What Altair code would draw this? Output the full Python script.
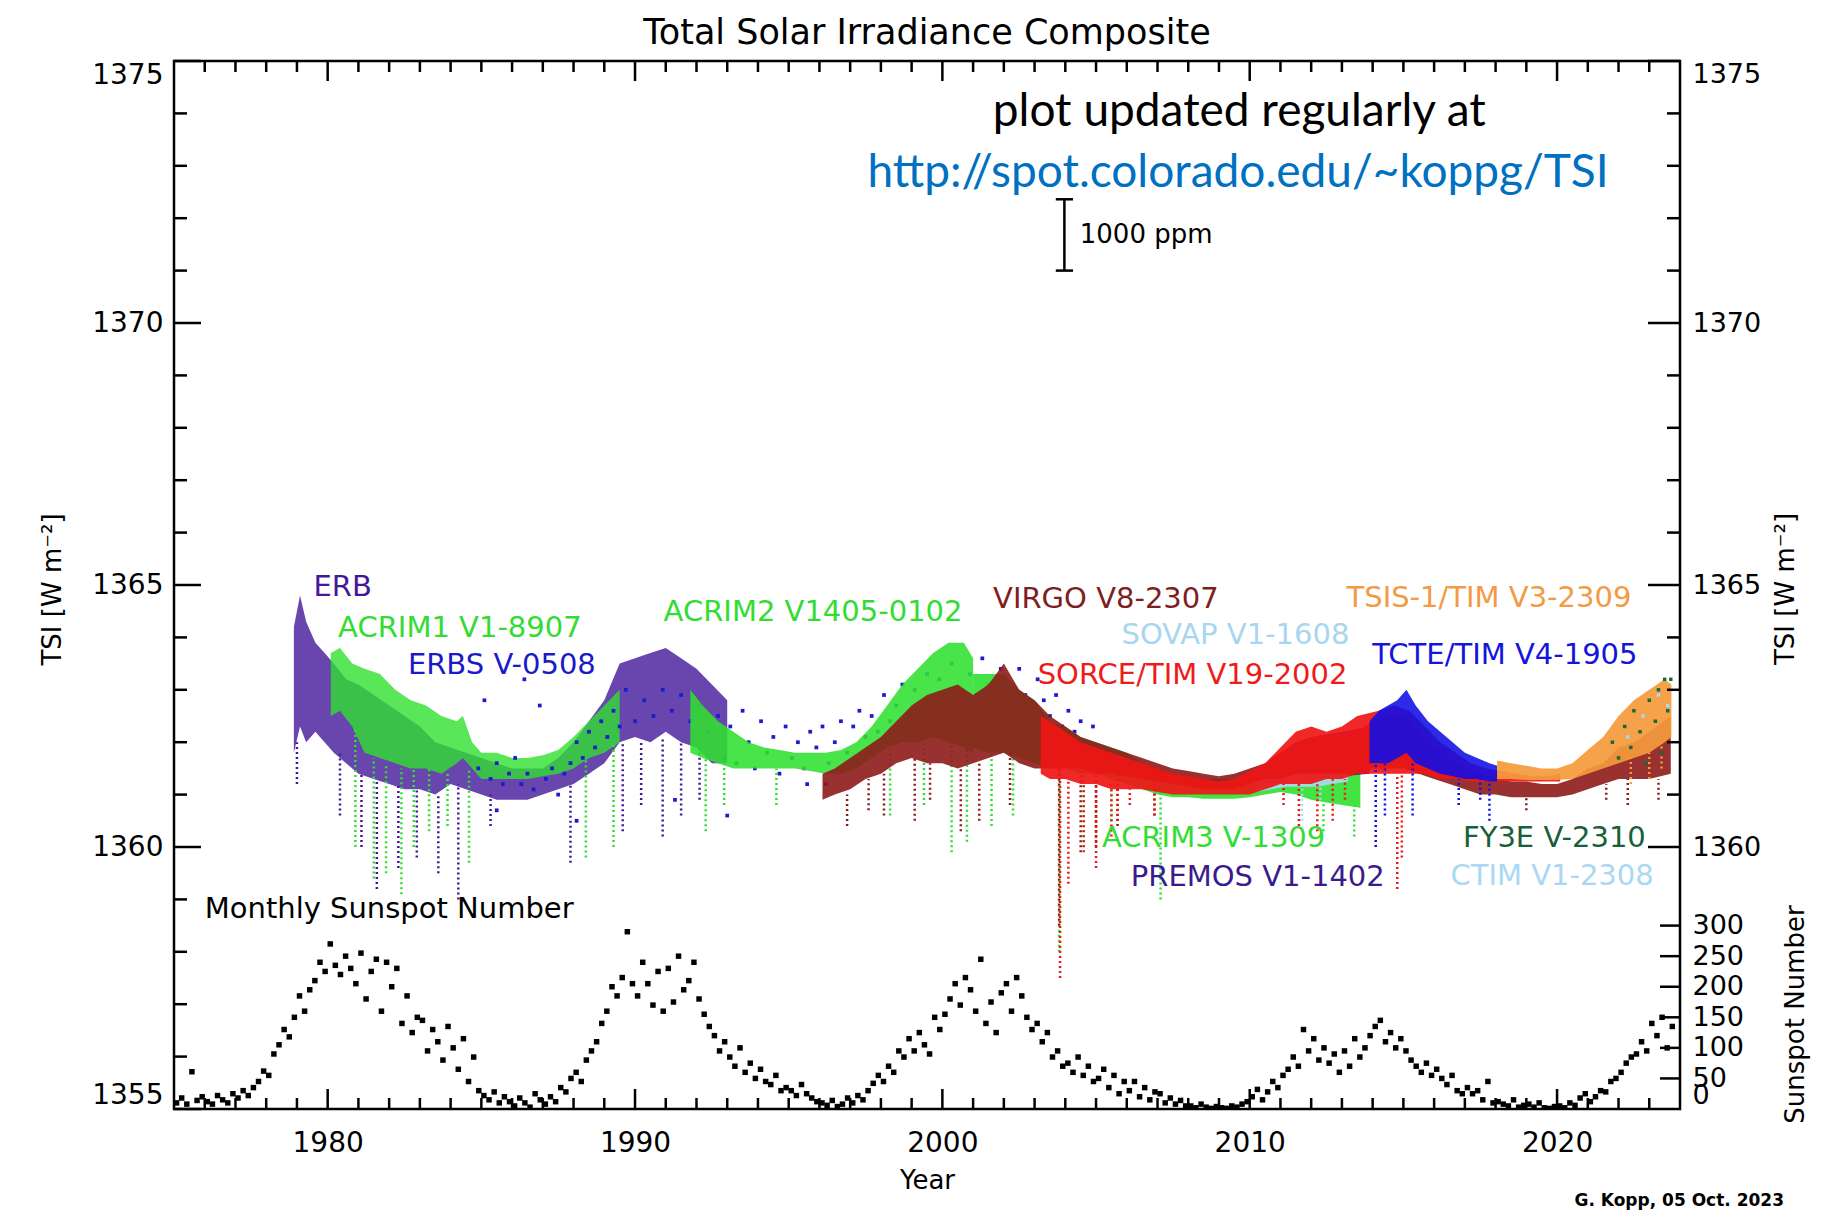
import altair as alt
import pandas as pd

FONT = "DejaVu Sans"
X_DOMAIN = [1975, 2024]
Y_DOMAIN = [1355, 1375]
SS_FULL = 300.0       # sunspot number shown at top of sunspot axis
SS_TSI_SPAN = 3.5     # W/m2 spanned by 0..300 sunspots

# ---------------- TSI instrument records (year, core low, core high) ----------------
ERB_YEAR = [1978.9, 1979.1, 1979.3, 1979.6, 1979.9, 1980.2, 1980.6, 1981.0, 1981.5, 1982.0,
            1982.5, 1983.0, 1983.5, 1984.0, 1984.5, 1985.0, 1985.5, 1986.0, 1986.5, 1987.0,
            1987.5, 1988.0, 1988.5, 1989.0, 1989.5, 1990.0, 1990.5, 1991.0, 1991.5, 1992.0,
            1992.5, 1993.0]
ERB_LO = [1361.8, 1362.3, 1362.0, 1362.2, 1362.0, 1361.8, 1361.6, 1361.4, 1361.3, 1361.2,
          1361.1, 1361.1, 1361.0, 1361.2, 1361.1, 1361.0, 1360.9, 1360.9, 1360.9, 1361.0,
          1361.1, 1361.2, 1361.4, 1361.6, 1362.0, 1362.1, 1362.0, 1362.2, 1362.0, 1361.9,
          1361.6, 1361.6]
ERB_HI = [1364.2, 1364.8, 1364.3, 1363.9, 1363.7, 1363.5, 1363.2, 1363.1, 1362.9, 1362.7,
          1362.5, 1362.3, 1362.0, 1361.9, 1361.8, 1361.7, 1361.6, 1361.5, 1361.5, 1361.5,
          1361.7, 1362.0, 1362.4, 1362.8, 1363.5, 1363.6, 1363.7, 1363.8, 1363.6, 1363.4,
          1363.1, 1362.8]

ACRIM1_YEAR = [1980.1, 1980.4, 1980.8, 1981.2, 1981.7, 1982.2, 1982.7, 1983.2, 1983.7, 1984.2,
               1984.4, 1984.7, 1985.0, 1985.5, 1986.0, 1986.5, 1987.0, 1987.5, 1988.0, 1988.5,
               1989.0, 1989.5]
ACRIM1_LO = [1362.5, 1362.6, 1362.3, 1361.8, 1361.7, 1361.6, 1361.5, 1361.5, 1361.4, 1361.6,
             1361.7, 1361.5, 1361.3, 1361.3, 1361.3, 1361.3, 1361.35, 1361.4, 1361.5, 1361.7,
             1361.8, 1362.0]
ACRIM1_HI = [1363.7, 1363.8, 1363.5, 1363.4, 1363.3, 1363.0, 1362.8, 1362.7, 1362.5, 1362.4,
             1362.5, 1362.0, 1361.8, 1361.8, 1361.7, 1361.7, 1361.75, 1361.85, 1362.1, 1362.4,
             1362.7, 1363.0]

ACRIM2_YEAR = [1991.8, 1992.2, 1992.7, 1993.2, 1993.7, 1994.2, 1994.7, 1995.2, 1995.7, 1996.2,
               1996.7, 1997.2, 1997.7, 1998.2, 1998.7, 1999.2, 1999.7, 2000.2, 2000.7, 2001.0]
ACRIM2_LO = [1361.8, 1361.7, 1361.6, 1361.5, 1361.5, 1361.5, 1361.5, 1361.5, 1361.45, 1361.4,
             1361.4, 1361.5, 1361.7, 1361.9, 1362.0, 1362.0, 1362.1, 1362.0, 1361.9, 1361.8]
ACRIM2_HI = [1363.0, 1362.7, 1362.4, 1362.2, 1362.0, 1361.9, 1361.85, 1361.8, 1361.8, 1361.8,
             1361.85, 1362.0, 1362.3, 1362.7, 1363.1, 1363.4, 1363.7, 1363.9, 1363.9, 1363.6]

ACRIM3_YEAR = [2001.0, 2001.5, 2002.0, 2002.5, 2003.0, 2003.5, 2004.0, 2004.5, 2005.0, 2005.5,
               2006.0, 2006.5, 2007.0, 2007.5, 2008.0, 2008.5, 2009.0, 2009.5, 2010.0, 2010.5,
               2011.0, 2011.5, 2012.0, 2012.5, 2013.0, 2013.6]
ACRIM3_LO = [1361.9, 1361.8, 1361.8, 1361.7, 1361.6, 1361.5, 1361.5, 1361.4, 1361.4, 1361.3,
             1361.2, 1361.1, 1361.0, 1360.95, 1360.95, 1360.92, 1360.92, 1360.92, 1360.95, 1361.0,
             1361.05, 1361.0, 1360.9, 1360.85, 1360.8, 1360.75]
ACRIM3_HI = [1363.3, 1363.3, 1363.3, 1363.0, 1362.8, 1362.4, 1362.3, 1362.1, 1362.0, 1361.9,
             1361.8, 1361.6, 1361.5, 1361.4, 1361.35, 1361.3, 1361.3, 1361.3, 1361.4, 1361.5,
             1361.6, 1361.7, 1361.8, 1361.8, 1361.7, 1361.6]

VIRGO_YEAR = [1996.1, 1996.5,
              1997.0, 1997.5, 1998.0, 1998.5, 1999.0, 1999.5, 2000.0, 2000.5, 2001.0, 2001.5,
              2002.0, 2002.5, 2003.0, 2003.5, 2004.0, 2004.5, 2005.0, 2005.5, 2006.0, 2006.5,
              2007.0, 2007.5, 2008.0, 2008.5, 2009.0, 2009.5, 2010.0, 2010.5, 2011.0, 2011.5,
              2012.0, 2012.5, 2013.0, 2013.5, 2014.0, 2014.5, 2015.0, 2015.5, 2016.0, 2016.5,
              2017.0, 2017.5, 2018.0, 2018.5, 2019.0, 2019.5, 2020.0, 2020.5, 2021.0, 2021.5,
              2022.0, 2022.5, 2023.0, 2023.7]
VIRGO_LO = [1360.9, 1361.0,
            1361.1, 1361.3, 1361.4, 1361.6, 1361.7, 1361.6, 1361.6, 1361.5, 1361.6, 1361.7,
            1361.8, 1361.6, 1361.5, 1361.5, 1361.5, 1361.5, 1361.4, 1361.4, 1361.35, 1361.3,
            1361.25, 1361.2, 1361.15, 1361.1, 1361.1, 1361.1, 1361.2, 1361.3, 1361.3, 1361.4,
            1361.4, 1361.4, 1361.4, 1361.4, 1361.5, 1361.5, 1361.5, 1361.4, 1361.3, 1361.2,
            1361.1, 1361.0, 1361.0, 1360.95, 1360.95, 1360.95, 1360.95, 1361.0, 1361.1, 1361.2,
            1361.3, 1361.3, 1361.3, 1361.4]
VIRGO_HI = [1361.4, 1361.5,
            1361.7, 1361.9, 1362.1, 1362.4, 1362.7, 1362.9, 1363.0, 1363.1, 1362.9, 1363.1,
            1363.5, 1363.0, 1362.8, 1362.5, 1362.3, 1362.1, 1362.0, 1361.9, 1361.8, 1361.7,
            1361.6, 1361.5, 1361.45, 1361.4, 1361.35, 1361.4, 1361.5, 1361.6, 1361.8, 1362.0,
            1362.1, 1362.1, 1362.1, 1362.2, 1362.4, 1362.5, 1362.5, 1362.2, 1361.9, 1361.7,
            1361.5, 1361.4, 1361.3, 1361.25, 1361.25, 1361.2, 1361.2, 1361.3, 1361.5, 1361.6,
            1361.9, 1362.0, 1362.2, 1362.5]

SOVAP_YEAR = [2010.2, 2010.7, 2011.2, 2011.7, 2012.2, 2012.7, 2013.2]
SOVAP_LO = [1361.05, 1361.1, 1361.15, 1361.15, 1361.15, 1361.2, 1361.25]
SOVAP_HI = [1361.4, 1361.5, 1361.7, 1361.9, 1362.0, 1361.9, 1361.9]

PREMOS_YEAR = [2010.2, 2011.0, 2012.0, 2013.0, 2013.9]
PREMOS_LO = [1361.05, 1361.2, 1361.3, 1361.35, 1361.4]
PREMOS_HI = [1361.4, 1361.8, 1362.1, 1362.2, 1362.3]

SORCE_YEAR = [2003.2, 2003.5,
              2004.0, 2004.5, 2005.0, 2005.5, 2006.0, 2006.5, 2007.0, 2007.5, 2008.0, 2008.5,
              2009.0, 2009.5, 2010.0, 2010.5, 2011.0, 2011.5, 2012.0, 2012.5, 2013.0, 2013.5,
              2014.2, 2014.7, 2015.2, 2015.7, 2016.2, 2016.7, 2017.2, 2017.7, 2018.2, 2018.7,
              2019.2, 2019.7, 2020.1]
SORCE_LO = [1361.4, 1361.3,
            1361.3, 1361.2, 1361.2, 1361.1, 1361.1, 1361.1, 1361.05, 1361.0, 1361.0, 1361.0,
            1361.0, 1361.0, 1361.0, 1361.1, 1361.2, 1361.2, 1361.2, 1361.3, 1361.3, 1361.4,
            1361.4, 1361.4, 1361.4, 1361.4, 1361.3, 1361.3, 1361.25, 1361.25, 1361.25, 1361.25,
            1361.25, 1361.25, 1361.25]
SORCE_HI = [1362.5, 1362.4,
            1362.2, 1362.0, 1361.9, 1361.8, 1361.7, 1361.6, 1361.5, 1361.4, 1361.35, 1361.3,
            1361.25, 1361.3, 1361.45, 1361.6, 1361.9, 1362.2, 1362.3, 1362.2, 1362.3, 1362.5,
            1362.6, 1362.7, 1362.6, 1362.3, 1362.0, 1361.8, 1361.6, 1361.5, 1361.45, 1361.4,
            1361.35, 1361.35, 1361.4]

TCTE_YEAR = [2013.9, 2014.2, 2014.5, 2014.8, 2015.1, 2015.4, 2015.8, 2016.2, 2016.6, 2017.0,
             2017.4, 2017.8, 2018.05]
TCTE_LO = [1361.6, 1361.6, 1361.6, 1361.7, 1361.8, 1361.6, 1361.5, 1361.4, 1361.35, 1361.3,
           1361.3, 1361.25, 1361.25]
TCTE_HI = [1362.4, 1362.6, 1362.7, 1362.8, 1363.0, 1362.7, 1362.4, 1362.2, 1362.0, 1361.8,
           1361.7, 1361.6, 1361.55]

TSIS_YEAR = [2018.05, 2018.5, 2019.0, 2019.5, 2020.0, 2020.5, 2021.0, 2021.5, 2022.0, 2022.5,
             2023.0, 2023.5, 2023.72]
TSIS_LO = [1361.3, 1361.3, 1361.28, 1361.28, 1361.28, 1361.3, 1361.4, 1361.5, 1361.6, 1361.7,
           1361.8, 1362.0, 1362.1]
TSIS_HI = [1361.65, 1361.6, 1361.55, 1361.5, 1361.5, 1361.6, 1361.85, 1362.1, 1362.5, 1362.8,
           1363.0, 1363.2, 1363.1]

# sparse instruments (individual points)
ERBS_YEAR = [1984.9, 1985.1, 1985.3, 1985.5, 1985.7, 1985.9, 1986.1, 1986.3, 1986.5, 1986.7,
             1986.9, 1987.1, 1987.3, 1987.5, 1987.7, 1987.9, 1988.1, 1988.3, 1988.5, 1988.7,
             1988.9, 1989.1, 1989.3, 1989.5, 1989.7,
             1990.0, 1990.3, 1990.6, 1990.9, 1991.2, 1991.5, 1991.8, 1992.1, 1992.4,
             1992.7, 1992.9,
             1993.1, 1993.3, 1993.5, 1993.7, 1993.9, 1994.1, 1994.3, 1994.5, 1994.7, 1994.9,
             1995.1, 1995.3, 1995.5, 1995.7, 1995.9, 1996.1, 1996.3, 1996.5, 1996.7, 1996.9,
             1997.1, 1997.3, 1997.5, 1997.7, 1997.9, 1998.1, 1998.3, 1998.5, 1998.7, 1998.9,
             1999.1, 1999.3, 1999.5, 1999.7, 1999.9, 2000.1, 2000.3, 2000.5, 2000.7, 2000.9,
             2001.1, 2001.3, 2001.5, 2001.7, 2001.9, 2002.1, 2002.3, 2002.5, 2002.7, 2002.9,
             2003.1, 2003.3, 2003.5, 2003.7, 2003.9, 2004.1, 2004.3, 2004.5, 2004.7, 2004.9,
             1985.5, 1988.1, 1991.3, 1995.6, 1996.2, 1986.4, 1993.0]
ERBS_TSI = [1361.5, 1362.8, 1361.3, 1361.6, 1361.2, 1361.4, 1361.7, 1361.2, 1361.4, 1361.1,
            1362.7, 1361.3, 1361.5, 1361.0, 1361.4, 1361.6, 1362.0, 1361.7, 1362.2, 1361.9,
            1362.4, 1362.1, 1362.6, 1362.3, 1363.0,
            1362.4, 1362.8, 1362.5, 1363.0, 1362.6, 1362.9, 1362.4, 1362.7, 1362.2,
            1362.5, 1361.7,
            1362.3, 1361.6, 1362.6, 1362.0, 1361.5, 1362.4, 1361.8, 1362.1, 1361.4, 1362.3,
            1361.7, 1362.0, 1361.5, 1362.2, 1361.9, 1362.3, 1361.6, 1362.0, 1362.4, 1361.8,
            1362.3, 1362.6, 1362.1, 1362.5, 1362.2, 1362.9, 1362.4, 1362.7, 1363.1, 1362.5,
            1363.0, 1362.6, 1363.3, 1362.8, 1363.2, 1362.7, 1363.5, 1363.0, 1362.6, 1363.3,
            1362.9, 1363.6, 1363.1, 1362.8, 1363.4, 1363.0, 1362.7, 1363.4, 1362.9, 1362.6,
            1363.2, 1362.8, 1362.5, 1362.9, 1362.3, 1362.6, 1362.2, 1362.4, 1362.0, 1362.3,
            1360.7, 1360.5, 1360.9, 1361.2, 1361.2, 1363.2, 1360.6]

FY3E_YEAR = [2021.8, 2022.0, 2022.2, 2022.4, 2022.5, 2022.7, 2022.9, 2023.0, 2023.2, 2023.3,
             2023.4, 2023.5, 2023.6, 2023.7]
FY3E_TSI = [1362.0, 1361.7, 1362.3, 1361.9, 1362.6, 1362.2, 1361.6, 1362.8, 1362.4, 1363.0,
            1361.8, 1363.2, 1362.6, 1363.2]

CTIM_YEAR = [2022.3, 2022.8, 2023.3, 2023.6]
CTIM_TSI = [1362.1, 1362.5, 1362.9, 1362.7]

# downward excursions (sunspot dips): year, lowest value, top of excursion
ERB_DIP_YEAR = [1979.0, 1980.4, 1981.1, 1981.6, 1982.3, 1982.9, 1983.6, 1984.25, 1985.3, 1987.9,
                1989.6, 1990.2, 1990.9, 1991.5, 1992.1]
ERB_DIP_LOW = [1361.2, 1360.6, 1360.0, 1359.2, 1359.6, 1359.8, 1359.5, 1359.0, 1360.4, 1359.7,
               1360.3, 1360.8, 1360.2, 1360.6, 1360.9]
ERB_DIP_TOP = [1362.0, 1361.8, 1361.4, 1361.3, 1361.2, 1361.1, 1361.0, 1361.2, 1361.0, 1361.2,
               1362.0, 1362.0, 1362.1, 1362.0, 1361.9]

ACRIM1_DIP_YEAR = [1980.9, 1981.5, 1981.9, 1982.4, 1982.8, 1983.3, 1983.9, 1984.6, 1988.4, 1989.3]
ACRIM1_DIP_LOW = [1360.0, 1359.4, 1359.5, 1359.1, 1360.0, 1360.3, 1360.4, 1359.7, 1359.8, 1360.0]
ACRIM1_DIP_TOP = [1362.3, 1361.7, 1361.6, 1361.5, 1361.5, 1361.5, 1361.4, 1361.5, 1361.7, 1362.0]

ACRIM2_DIP_YEAR = [1992.3, 1992.9, 1994.6, 1998.3, 1999.4, 2000.3, 2000.8]
ACRIM2_DIP_LOW = [1360.3, 1360.8, 1360.8, 1360.6, 1360.8, 1359.9, 1360.1]
ACRIM2_DIP_TOP = [1361.7, 1361.6, 1361.5, 1361.9, 1362.0, 1362.0, 1361.9]

ACRIM3_DIP_YEAR = [2001.6, 2002.3, 2003.8, 2004.6, 2005.5, 2007.1, 2012.4, 2013.4]
ACRIM3_DIP_LOW = [1360.4, 1360.6, 1358.0, 1360.0, 1360.5, 1359.0, 1360.3, 1360.2]
ACRIM3_DIP_TOP = [1361.8, 1361.8, 1361.5, 1361.4, 1361.3, 1361.1, 1360.85, 1360.8]

VIRGO_DIP_YEAR = [1996.9, 1997.6, 1998.1, 1999.1, 1999.6, 2000.6, 2001.2, 2002.2, 2003.8, 2004.5,
                  2005.0, 2005.7, 2006.9, 2019.0, 2021.6, 2022.3, 2023.3]
VIRGO_DIP_LOW = [1360.4, 1360.7, 1360.6, 1360.5, 1360.9, 1360.3, 1360.5, 1360.8, 1358.5, 1359.9,
                 1360.0, 1360.4, 1360.6, 1360.7, 1360.9, 1360.8, 1360.9]
VIRGO_DIP_TOP = [1361.0, 1361.3, 1361.4, 1361.7, 1361.6, 1361.5, 1361.6, 1361.8, 1361.5, 1361.5,
                 1361.4, 1361.4, 1361.25, 1360.95, 1361.2, 1361.3, 1361.3]

SOVAP_DIP_YEAR = [2011.7, 2012.3]
SOVAP_DIP_LOW = [1360.5, 1360.9]
SOVAP_DIP_TOP = [1361.2, 1361.2]

SORCE_DIP_YEAR = [2003.83, 2004.1, 2004.6, 2005.0, 2005.5, 2005.7, 2006.1, 2006.9, 2011.1, 2011.6,
                  2012.2, 2012.7, 2013.1, 2014.8, 2014.95]
SORCE_DIP_LOW = [1357.5, 1359.3, 1359.9, 1359.6, 1360.2, 1360.5, 1360.8, 1360.6, 1360.8, 1360.4,
                 1360.3, 1360.5, 1360.9, 1359.2, 1359.8]
SORCE_DIP_TOP = [1361.3, 1361.3, 1361.2, 1361.2, 1361.1, 1361.1, 1361.1, 1361.05, 1361.2, 1361.2,
                 1361.2, 1361.3, 1361.3, 1361.4, 1361.4]

TCTE_DIP_YEAR = [2014.1, 2014.4, 2015.3, 2016.8, 2017.5, 2017.8]
TCTE_DIP_LOW = [1360.0, 1360.6, 1360.6, 1360.8, 1360.9, 1360.5]
TCTE_DIP_TOP = [1361.6, 1361.6, 1361.6, 1361.3, 1361.3, 1361.25]

TSIS_DIP_YEAR = [2022.4, 2023.0, 2023.4]
TSIS_DIP_LOW = [1361.2, 1361.3, 1361.5]
TSIS_DIP_TOP = [1361.7, 1361.8, 1362.0]

# ---------------- Monthly sunspot number (every other month, from 1975) ----------------
SUNSPOTS = [
    10, 18, 8, 61, 14, 20,          # 1975
    12, 8, 22, 15, 10, 25,          # 1976
    18, 30, 22, 35, 45, 62,         # 1977
    55, 90, 105, 130, 118, 150,     # 1978
    185, 160, 195, 210, 240, 225,   # 1979
    270, 235, 220, 250, 230, 205,   # 1980
    255, 180, 225, 245, 160, 240,   # 1981
    200, 230, 140, 185, 125, 150,   # 1982
    145, 95, 130, 110, 80, 135,     # 1983
    100, 65, 115, 45, 85, 30,       # 1984
    22, 15, 28, 10, 20, 12,         # 1985
    5, 18, 10, 3, 25, 15,           # 1986
    8, 20, 12, 35, 28, 50,          # 1987
    60, 45, 80, 95, 110, 140,       # 1988
    160, 200, 185, 215, 290, 205,   # 1989
    185, 240, 205, 170, 225, 160,   # 1990
    230, 175, 250, 195, 210, 240,   # 1991
    180, 155, 135, 120, 95, 110,    # 1992
    85, 70, 100, 60, 75, 50,        # 1993
    65, 45, 40, 55, 30, 35,         # 1994
    30, 22, 40, 25, 18, 12,         # 1995
    10, 6, 14, 4, 8, 18,            # 1996
    10, 22, 15, 30, 42, 55,         # 1997
    45, 70, 60, 95, 85, 115,        # 1998
    95, 125, 105, 90, 150, 130,     # 1999
    155, 180, 205, 170, 215, 195,   # 2000
    160, 245, 140, 175, 125, 190,   # 2001
    205, 160, 215, 185, 150, 130,   # 2002
    140, 110, 125, 85, 95, 70,      # 2003
    75, 60, 85, 55, 70, 45,         # 2004
    50, 65, 35, 55, 25, 45,         # 2005
    30, 45, 20, 35, 15, 28,         # 2006
    25, 10, 18, 8, 14, 5,           # 2007
    5, 2, 8, 3, 1, 4,               # 2008
    2, 1, 5, 3, 8, 12,              # 2009
    20, 32, 15, 28, 45, 35,         # 2010
    55, 65, 85, 70, 130, 95,        # 2011
    115, 80, 100, 75, 90, 60,       # 2012
    95, 70, 115, 85, 100, 120,      # 2013
    135, 145, 110, 125, 100, 115,   # 2014
    95, 80, 70, 60, 75, 55,         # 2015
    65, 50, 40, 55, 30, 25,         # 2016
    35, 25, 30, 15, 45, 10,         # 2017
    12, 8, 5, 15, 3, 6,             # 2018
    8, 3, 10, 2, 1, 4,              # 2019
    5, 2, 10, 6, 18, 25,            # 2020
    12, 20, 30, 28, 45, 50,         # 2021
    60, 75, 85, 90, 110, 95,        # 2022
    140, 120, 150, 100, 135,        # 2023
]
SS_START_YEAR = 1975
SS_PER_YEAR = 6

# ---------------- annotation texts ----------------
LABELS = ["ERB", "ACRIM1 V1-8907", "ERBS V-0508", "ACRIM2 V1405-0102", "VIRGO V8-2307",
          "SOVAP V1-1608", "SORCE/TIM V19-2002", "TSIS-1/TIM V3-2309", "TCTE/TIM V4-1905",
          "ACRIM3 V-1309", "PREMOS V1-1402", "FY3E V-2310", "CTIM V1-2308",
          "Monthly Sunspot Number"]
LABEL_YEAR = [1979.54, 1980.34, 1982.61, 1990.93, 2001.65, 2005.83, 2003.10, 2013.15, 2013.99,
              2005.19, 2006.13, 2016.94, 2016.53, 1976.0]
LABEL_TSI = [1364.97, 1364.17, 1363.48, 1364.49, 1364.74, 1364.04, 1363.28, 1364.75, 1363.66,
             1360.18, 1359.43, 1360.18, 1359.45, 1358.81]
LABEL_COLOR = ["#45189A", "#33DC33", "#1A1AC8", "#33DC33", "#7E1E1E", "#A8D6F0", "#EE1B1B",
               "#F29A45", "#1414DC", "#33DC33", "#3A1A8C", "#17603A", "#AAD8F4", "#000000"]

TITLE = "Total Solar Irradiance Composite"
NOTE_LINES = ["plot updated regularly at", "http://spot.colorado.edu/~koppg/TSI"]
NOTE_YEAR = [2009.66, 2009.62]
NOTE_TSI = [1374.03, 1372.86]
NOTE_COLOR = ["#000000", "#0070C0"]
CREDIT = "G. Kopp, 05 Oct. 2023"
PPM_LABEL = "1000 ppm"
PPM_YEAR = 2003.97
PPM_BASE = 1371.0
PPM_TSI_REF = 1361.0

# ---------------- axes ticks ----------------
X_MAJOR = [1980, 1990, 2000, 2010, 2020]
X_MINOR = [y for y in range(1976, 2024) if y % 10 != 0]
Y_MAJOR = [1355, 1360, 1365, 1370, 1375]
Y_MINOR = [v for v in range(1356, 1375) if v % 5 != 0]
R_MAJOR = [1360, 1365, 1370, 1375]
R_MINOR = [v for v in range(1361, 1375) if v % 5 != 0]
SS_TICKS = [50, 100, 150, 200, 250, 300]
SS_LABELS = [0, 50, 100, 150, 200, 250, 300]

# ======================================================================================
W, H = 1506, 1048
xs = alt.Scale(domain=X_DOMAIN, nice=False, zero=False)
ys = alt.Scale(domain=Y_DOMAIN, nice=False, zero=False)
SS_EXPR = f"{Y_DOMAIN[0]} + datum.ss * {SS_TSI_SPAN} / {SS_FULL}"

PURPLE = "#43179A"
GREEN = "#30E030"
BLUE_ERBS = "#1C1CCC"
BROWN = "#8E1B1B"
LIGHTBLUE = "#A9D8F2"
RED = "#F01616"
ORANGE = "#F49A3C"
BLUE_TCTE = "#0E0EE6"
DKGREEN = "#136B36"


def X(field="year"):
    return alt.X(f"{field}:Q", scale=xs, axis=None)


def Y(field, axis=None):
    return alt.Y(f"{field}:Q", scale=ys, axis=axis)


def band(year, lo, hi, color, opacity=0.9):
    df = pd.DataFrame({"year": year, "lo": lo, "hi": hi})
    return alt.Chart(df).mark_area(color=color, opacity=opacity, clip=True).encode(
        x=X(), y=Y("lo"), y2="hi:Q")


def dips(year, low, top, color):
    df = pd.DataFrame({"year": year, "low": low, "top": top})
    return alt.Chart(df).mark_rule(color=color, strokeWidth=2.5, strokeDash=[2, 3],
                                   clip=True).encode(x=X(), y=Y("low"), y2="top:Q")


def points(year, val, color, size=10):
    df = pd.DataFrame({"year": year, "tsi": val})
    return alt.Chart(df).mark_square(color=color, size=size, opacity=1, clip=True).encode(
        x=X(), y=Y("tsi"))


layers = [
    band(ERB_YEAR, ERB_LO, ERB_HI, PURPLE, 0.8),
    dips(ERB_DIP_YEAR, ERB_DIP_LOW, ERB_DIP_TOP, PURPLE),
    band(ACRIM1_YEAR, ACRIM1_LO, ACRIM1_HI, GREEN, 0.8),
    dips(ACRIM1_DIP_YEAR, ACRIM1_DIP_LOW, ACRIM1_DIP_TOP, GREEN),
    points(ERBS_YEAR, ERBS_TSI, BLUE_ERBS, 14),
    band(ACRIM2_YEAR, ACRIM2_LO, ACRIM2_HI, GREEN, 0.88),
    dips(ACRIM2_DIP_YEAR, ACRIM2_DIP_LOW, ACRIM2_DIP_TOP, GREEN),
    band(ACRIM3_YEAR, ACRIM3_LO, ACRIM3_HI, GREEN, 0.9),
    dips(ACRIM3_DIP_YEAR, ACRIM3_DIP_LOW, ACRIM3_DIP_TOP, GREEN),
    band(PREMOS_YEAR, PREMOS_LO, PREMOS_HI, PURPLE, 0.9),
    band(SOVAP_YEAR, SOVAP_LO, SOVAP_HI, LIGHTBLUE, 0.9),
    dips(SOVAP_DIP_YEAR, SOVAP_DIP_LOW, SOVAP_DIP_TOP, LIGHTBLUE),
    band(VIRGO_YEAR, VIRGO_LO, VIRGO_HI, BROWN, 0.9),
    dips(VIRGO_DIP_YEAR, VIRGO_DIP_LOW, VIRGO_DIP_TOP, BROWN),
    band(SORCE_YEAR, SORCE_LO, SORCE_HI, RED, 0.92),
    dips(SORCE_DIP_YEAR, SORCE_DIP_LOW, SORCE_DIP_TOP, RED),
    band(TCTE_YEAR, TCTE_LO, TCTE_HI, BLUE_TCTE, 0.88),
    dips(TCTE_DIP_YEAR, TCTE_DIP_LOW, TCTE_DIP_TOP, BLUE_TCTE),
    band(TSIS_YEAR, TSIS_LO, TSIS_HI, ORANGE, 0.92),
    dips(TSIS_DIP_YEAR, TSIS_DIP_LOW, TSIS_DIP_TOP, ORANGE),
    points(FY3E_YEAR, FY3E_TSI, DKGREEN, 12),
    points(CTIM_YEAR, CTIM_TSI, LIGHTBLUE, 12),
]

# sunspots
ss_df = pd.DataFrame({
    "year": [SS_START_YEAR + (i + 0.5) / SS_PER_YEAR for i in range(len(SUNSPOTS))],
    "ss": SUNSPOTS,
})
layers.append(
    alt.Chart(ss_df).transform_calculate(tsi=SS_EXPR)
    .mark_square(color="black", size=30, opacity=1, clip=True)
    .encode(x=X(), y=Y("tsi"))
)

# 1000 ppm bar
ppm_df = pd.DataFrame({"year": [PPM_YEAR], "lo": [PPM_BASE],
                       "hi": [PPM_BASE + 1000e-6 * PPM_TSI_REF], "label": [PPM_LABEL]})
layers.append(alt.Chart(ppm_df).mark_rule(color="black", strokeWidth=2.5).encode(
    x=X(), y=Y("lo"), y2="hi:Q"))
for end in ["lo", "hi"]:
    layers.append(
        alt.Chart(ppm_df).transform_calculate(x1="datum.year - 0.28", x2="datum.year + 0.28")
        .mark_rule(color="black", strokeWidth=2.5)
        .encode(x=alt.X("x1:Q", scale=xs, axis=None), x2="x2:Q", y=Y(end)))
layers.append(
    alt.Chart(ppm_df).transform_calculate(tx="datum.year + 0.5", ty="(datum.lo + datum.hi) / 2")
    .mark_text(font=FONT, fontSize=26, align="left", baseline="middle", color="black")
    .encode(x=alt.X("tx:Q", scale=xs, axis=None), y=Y("ty"), text="label:N"))

# ---------------- tick marks (drawn inward) and axes ----------------
TICK = dict(color="black", strokeWidth=2.5)

left_axis = alt.Axis(orient="left", values=Y_MAJOR, format="d", ticks=False, domain=False,
                     grid=False, labelFont=FONT, labelFontSize=28, labelColor="black",
                     labelPadding=11, labelFlush=True, labelOverlap=False,
                     title="TSI [W m⁻²]", titleFont=FONT, titleFontSize=26,
                     titleFontWeight="normal", titleColor="black", titleX=-122, titleY=528,
                     titleAngle=270, titleAlign="center", titleBaseline="middle")

ss_positions = [Y_DOMAIN[0] + s * SS_TSI_SPAN / SS_FULL for s in SS_LABELS]
right_axis = alt.Axis(orient="right", values=R_MAJOR + ss_positions, ticks=False, domain=False,
                      grid=False, labelFont=FONT, labelFontSize=27, labelColor="black",
                      labelPadding=12, labelFlush=True, labelOverlap=False,
                      labelExpr=(f"datum.value < {R_MAJOR[0] - 0.5} ? "
                                 f"format((datum.value - {Y_DOMAIN[0]}) * {SS_FULL} / {SS_TSI_SPAN}, '.0f')"
                                 f" : format(datum.value, 'd')"),
                      title="Sunspot Number", titleFont=FONT, titleFontSize=26,
                      titleFontWeight="normal", titleColor="black", titleX=115, titleY=953,
                      titleAngle=270, titleAlign="center", titleBaseline="middle")

bottom_axis = alt.Axis(orient="bottom", values=X_MAJOR, format="d", ticks=False, domain=False,
                       grid=False, labelFont=FONT, labelFontSize=28, labelColor="black",
                       labelPadding=20, labelFlush=False, labelOverlap=False,
                       title="Year", titleFont=FONT, titleFontSize=26, titleFontWeight="normal",
                       titleColor="black", titleX=W / 2, titleY=71, titleBaseline="middle")


def yticks(values, x0, x1, axis=None, ss=False):
    ch = alt.Chart(pd.DataFrame({"v": values}))
    if ss:
        ch = ch.transform_calculate(tsi=f"{Y_DOMAIN[0]} + datum.v * {SS_TSI_SPAN} / {SS_FULL}")
        field = "tsi"
    else:
        field = "v"
    return ch.mark_rule(**TICK).encode(y=Y(field, axis), x=alt.value(x0), x2=alt.value(x1))


def xticks(values, y0, y1, axis=None):
    return alt.Chart(pd.DataFrame({"v": values})).mark_rule(**TICK).encode(
        x=alt.X("v:Q", scale=xs, axis=axis), y=alt.value(y0), y2=alt.value(y1))


layers += [
    yticks(Y_MAJOR, 0, 27, axis=left_axis),
    yticks(Y_MINOR, 0, 13),
    yticks(R_MAJOR, W, W - 32, axis=right_axis),
    yticks(R_MINOR, W, W - 13),
    yticks(SS_TICKS, W, W - 20, ss=True),
    xticks(X_MAJOR, 0, 20),
    xticks(X_MINOR, 0, 11),
    xticks(X_MAJOR, H, H - 20, axis=bottom_axis),
    xticks(X_MINOR, H, H - 11),
]

# plot frame
layers.append(
    alt.Chart(pd.DataFrame({"f": [0]}))
    .mark_rect(fillOpacity=0, stroke="black", strokeWidth=2.5)
    .encode(x=alt.value(0), x2=alt.value(W), y=alt.value(0), y2=alt.value(H)))

# instrument labels
lab_df = pd.DataFrame({"label": LABELS, "year": LABEL_YEAR, "tsi": LABEL_TSI, "color": LABEL_COLOR})
layers.append(
    alt.Chart(lab_df).mark_text(font=FONT, fontSize=29, align="left", baseline="middle")
    .encode(x=X(), y=Y("tsi"), text="label:N", color=alt.Color("color:N", scale=None)))

# overlay note
note_df = pd.DataFrame({"label": NOTE_LINES, "year": NOTE_YEAR, "tsi": NOTE_TSI, "color": NOTE_COLOR})
layers.append(
    alt.Chart(note_df).mark_text(font="Lato", fontSize=46, align="center", baseline="middle")
    .encode(x=X(), y=Y("tsi"), text="label:N", color=alt.Color("color:N", scale=None)))

# right TSI title and credit
layers.append(
    alt.Chart(pd.DataFrame({"t": ["TSI [W m⁻²]"]}))
    .mark_text(font=FONT, fontSize=26, angle=270, align="center", baseline="middle", color="black")
    .encode(text="t:N", x=alt.value(W + 106), y=alt.value(528)))
layers.append(
    alt.Chart(pd.DataFrame({"t": [CREDIT]}))
    .mark_text(font=FONT, fontSize=17, fontWeight="bold", align="right", baseline="middle",
               color="black")
    .encode(text="t:N", x=alt.value(W + 104), y=alt.value(H + 92)))

chart = (
    alt.layer(*layers)
    .resolve_axis(x="independent", y="independent")
    .properties(
        width=W, height=H,
        autosize=alt.AutoSizeParams(type="none"),
        padding={"left": 166, "top": 53, "right": 134, "bottom": 104},
        title=alt.TitleParams(TITLE, font=FONT, fontSize=35, fontWeight="normal",
                              color="black", anchor="middle", offset=9),
    )
    .configure_view(stroke=None)
    .configure(background="white")
)

chart.save("out.html", embed_options={"renderer": "svg", "actions": False})
